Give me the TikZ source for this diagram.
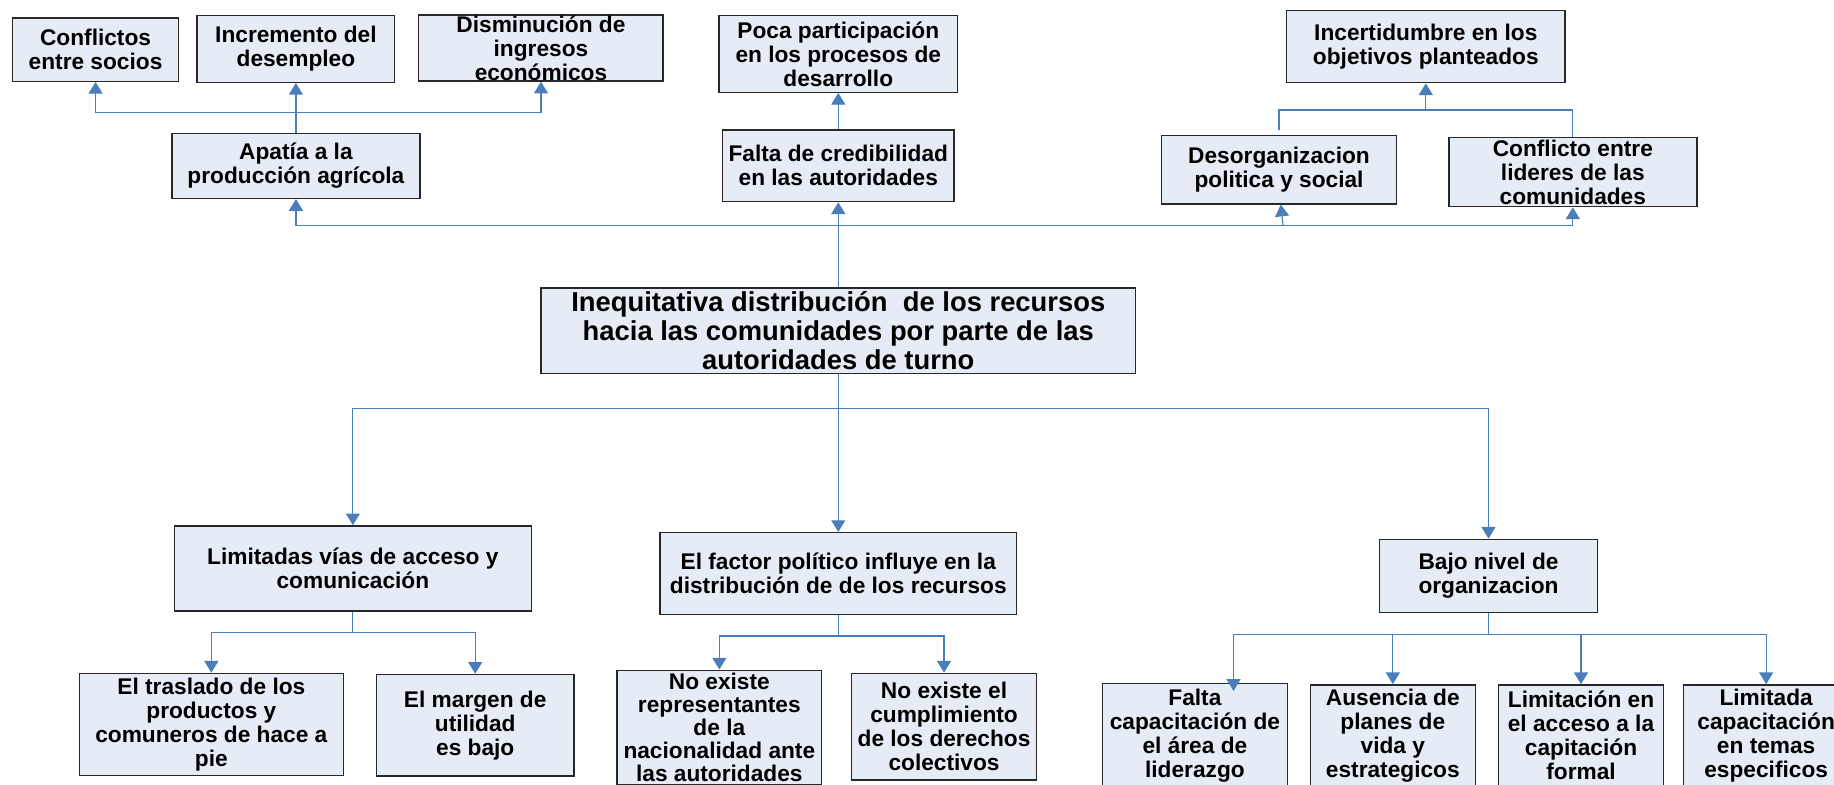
\documentclass[tikz,border=0pt]{standalone}
\usepackage{fontspec}
\setmainfont{Liberation Sans}
\usetikzlibrary{arrows.meta}
\definecolor{azul}{RGB}{74,126,187}
\definecolor{fondo}{RGB}{230,236,246}
\definecolor{borde}{RGB}{40,40,40}

\begin{document}
\begin{tikzpicture}[x=1pt, y=-1pt,
  caja/.style={draw=borde, fill=fondo, line width=1.2pt, align=center, inner sep=2pt,
    font=\bfseries\fontsize{19.4}{20.5}\selectfont},
  principal/.style={caja, inner ysep=0pt, font=\bfseries\fontsize{23.4}{25}\selectfont},
  linea/.style={draw=azul, line width=1pt},
  flecha/.style={linea, -{Triangle[width=12pt,length=10pt]}}]

  \useasboundingbox (0,0) rectangle (1568,671);

  % -- Problema central --
  \node[principal, minimum width=508pt, minimum height=73pt] (central) at (716.7,282.7)
    {Inequitativa distribución~ de los recursos\\hacia las comunidades por parte de las\\autoridades de turno};

  % -- Efectos --
  \node[caja, minimum width=142pt, minimum height=54pt] (conflictos) at (81.7,42.5) {Conflictos\\entre socios};
  \node[caja, minimum width=169pt, minimum height=57pt] (incremento) at (253,41.9) {Incremento del\\desempleo};
  \node[caja, inner ysep=0pt, minimum width=209pt, minimum height=56.5pt] (disminucion) at (462.5,41)
    {Disminución de\\ingresos\\económicos};
  \node[caja, minimum width=212pt, minimum height=55.6pt] (apatia) at (253,141.8) {Apatía a la\\producción agrícola};
  \node[caja, minimum width=204pt, minimum height=65.5pt] (poca) at (716.7,46.1)
    {Poca participación\\en los procesos de\\desarrollo};
  \node[caja, minimum width=198pt, minimum height=61.4pt] (falta) at (716.7,141.7) {Falta de credibilidad\\en las autoridades};
  \node[caja, minimum width=238pt, minimum height=61.6pt] (incert) at (1219,39.9) {Incertidumbre en los\\objetivos planteados};
  \node[caja, minimum width=201pt, minimum height=58.4pt] (desorg) at (1093.5,145.2) {Desorganizacion\\politica y social};
  \node[caja, inner ysep=0pt, minimum width=212pt, minimum height=59pt] (confl) at (1344.7,147.2)
    {Conflicto entre\\lideres de las\\comunidades};

  % -- Causas --
  \node[caja, minimum width=305pt, minimum height=72.7pt] (vias) at (301.7,486) {Limitadas vías de acceso y\\comunicación};
  \node[caja, minimum width=305pt, minimum height=69.8pt] (factor) at (716.7,490.3)
    {El factor político influye en la\\distribución de de los recursos};
  \node[caja, minimum width=186pt, minimum height=62.7pt] (bajo) at (1272.6,492.4) {Bajo nivel de\\organizacion};

  % -- Subcausas --
  \node[caja, minimum width=225.5pt, minimum height=87.2pt] (traslado) at (180.7,619.3)
    {El traslado de los\\productos y\\comuneros de hace a\\pie};
  \node[caja, minimum width=169pt, minimum height=87pt] (margen) at (406.3,620.1) {El margen de\\utilidad\\es bajo};
  \node[caja, inner ysep=0pt, minimum width=175pt, minimum height=98pt,
    font=\bfseries\fontsize{19.4}{19.8}\selectfont] (repres) at (615,622)
    {No existe\\representantes\\de la\\nacionalidad ante\\las autoridades};
  \node[caja, minimum width=158pt, minimum height=91.2pt] (cumpl) at (807.1,621.3)
    {No existe el\\cumplimiento\\de los derechos\\colectivos};
  \node[caja, minimum width=158pt, minimum height=88.6pt] (faltacap) at (1021.6,628.6)
    {Falta\\capacitación de\\el área de\\liderazgo};
  \node[caja, minimum width=141pt, minimum height=86.6pt] (ausencia) at (1190.8,628.8)
    {Ausencia de\\planes de\\vida y\\estrategicos};
  \node[caja, minimum width=141pt, minimum height=86.6pt] (limitacion) at (1351.7,628.8)
    {Limitación en\\el acceso a la\\capitación\\formal};
  \node[caja, minimum width=141pt, minimum height=86.6pt] (limitada) at (1510,628.8)
    {Limitada\\capacitación\\en temas\\especificos};

  % -- Conectores hacia arriba --
  \coordinate (j1) at (253,96);
  \coordinate (j2) at (716.7,193);
  \coordinate (j3) at (1097,193);
  \coordinate (j4) at (1219,94);
  \draw[flecha] (apatia.north) -- (incremento.south);
  \draw[flecha] (j1) -| (conflictos.south);
  \draw[flecha] (j1) -| (disminucion.south);
  \draw[flecha] (central.north) -- (falta.south);
  \draw[flecha] (falta.north) -- (poca.south);
  \draw[flecha] (j2) -| (apatia.south);
  \draw[flecha] (j2) -| (confl.south);
  \draw[flecha] (j3) -- ([xshift=1.5pt]desorg.south);
  \draw[linea] ([yshift=4pt]desorg.north) |- (j4) -| (confl.north);
  \draw[flecha] (j4) -- (incert.south);

  % -- Conectores hacia abajo --
  \coordinate (j5) at (716.7,349);
  \draw[linea] (central.south) -- (j5);
  \draw[flecha] (j5) -| (vias.north);
  \draw[flecha] (j5) -- (factor.north);
  \draw[flecha] (j5) -| (bajo.north);

  \path (vias.south) ++(0,18) coordinate (j6);
  \draw[linea] (vias.south) -- (j6);
  \draw[flecha] (j6) -| (traslado.north);
  \draw[flecha] (j6) -| (margen.north);

  \path (factor.south) ++(0,18) coordinate (j7);
  \draw[linea] (factor.south) -- (j7);
  \draw[flecha] (j7) -| (repres.north);
  \draw[flecha] (j7) -| (cumpl.north);

  \path (bajo.south) ++(0,18) coordinate (j8);
  \draw[linea] (bajo.south) -- (j8);
  \draw[flecha] (j8) -| ([xshift=33pt,yshift=-7pt]faltacap.north);
  \draw[flecha] (j8) -| (ausencia.north);
  \draw[flecha] (j8) -| (limitacion.north);
  \draw[flecha] (j8) -| (limitada.north);

\end{tikzpicture}
\end{document}
